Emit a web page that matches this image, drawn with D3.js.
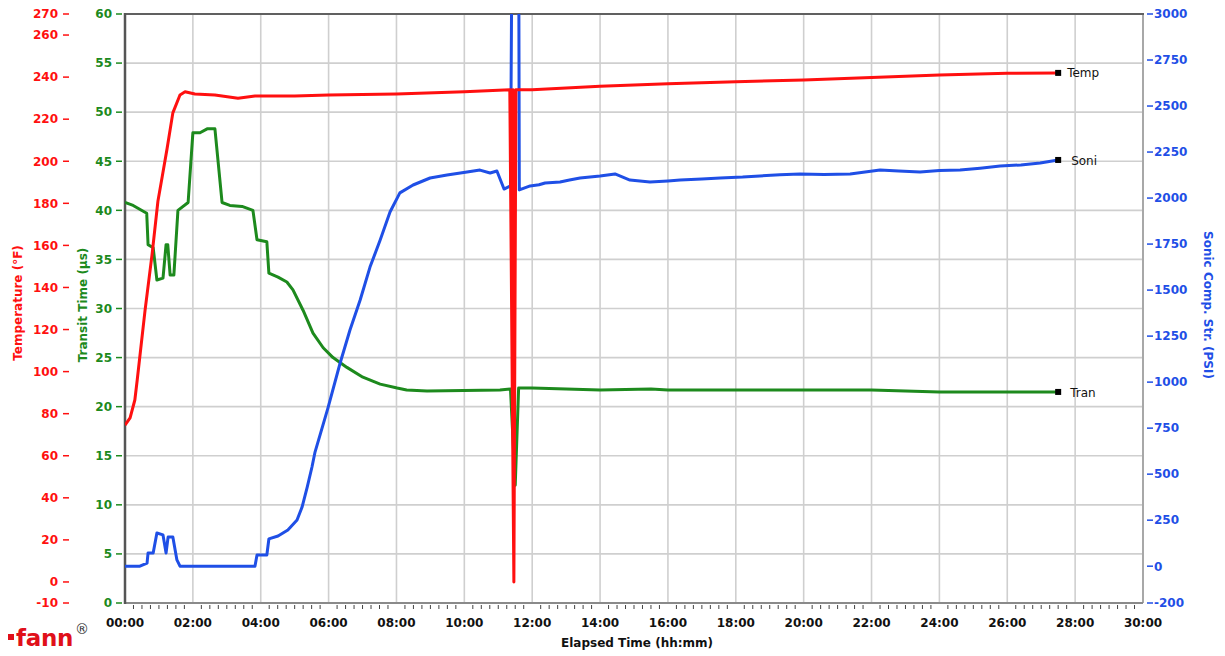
<!DOCTYPE html>
<html>
<head>
<meta charset="utf-8">
<script src="https://cdn.jsdelivr.net/npm/d3@7"></script>
<style>
  html, body { margin: 0; padding: 0; background: #fff; }
  svg { display: block; }
  text { font-family: "DejaVu Sans", Verdana, sans-serif; }
</style>
</head>
<body>
<svg id="chart" width="1225" height="656"></svg>
<script>
// ---------- data (time in hours) ----------
const tempTime = [0,0.15,0.29,0.36,0.59,0.80,0.97,1.10,1.24,1.41,1.62,1.77,2.06,2.65,3.33,3.83,5,6,8,10,11.34,11.46,11.40,11.46,11.44,11.46,11.52,12,14,16,18,20,22,24,26,27.5];
const tempVals = [74.6,78,86.5,96,129,156,181,193,206,223,231.5,233,232,231.5,230,231,231,231.5,232,233,234,0,234,0,234,0,234,234,235.7,236.8,237.8,238.6,239.8,241,241.8,242];

const tranTime = [0,0.24,0.64,0.68,0.83,0.94,1.12,1.21,1.26,1.33,1.44,1.56,1.86,2.0,2.21,2.42,2.65,2.86,3.09,3.45,3.77,3.89,4.18,4.24,4.51,4.77,4.95,5.25,5.54,5.84,6.13,6.54,7.01,7.52,8.02,8.3,8.9,11.05,11.36,11.5,11.6,12,14,15.5,16,20,22,23,24,27.5];
const tranVals = [40.8,40.5,39.7,36.5,36.2,32.9,33.1,36.5,36.5,33.4,33.4,40.0,40.8,47.9,47.9,48.3,48.3,40.8,40.5,40.4,40.0,37.0,36.8,33.6,33.2,32.7,31.9,29.8,27.5,26.0,25.0,24.0,23.0,22.3,21.9,21.7,21.6,21.7,21.8,12.0,21.9,21.9,21.7,21.8,21.7,21.7,21.7,21.6,21.5,21.5];

const soniTime = [0,0.44,0.65,0.68,0.83,0.94,1.12,1.21,1.27,1.41,1.53,1.62,3.83,3.89,4.18,4.24,4.51,4.8,5.07,5.22,5.37,5.51,5.6,5.98,6.34,6.63,6.93,7.22,7.52,7.81,8.1,8.49,8.99,9.49,10.08,10.46,10.76,10.96,11.17,11.36,11.41,11.60,11.62,11.94,12.2,12.38,12.82,13.1,13.41,14.0,14.44,14.88,15.47,16.0,16.36,17.0,17.54,18.2,18.71,19.3,19.89,20.6,21.37,22.25,22.8,23.43,24.0,24.61,25.2,25.79,26.4,26.97,27.5];
const soniVals = [0,0,17,72,72,180,170,72,158,158,34,0,0,61,61,148,164,197,251,322,430,539,620,859,1104,1283,1446,1625,1772,1924,2028,2071,2109,2125,2142,2152,2136,2147,2049,2066,3600,3600,2044,2066,2072,2082,2087,2098,2109,2120,2131,2098,2087,2093,2098,2104,2109,2114,2120,2126,2131,2128,2131,2152,2147,2142,2150,2152,2162,2174,2180,2190,2207];

const tempTicks = [-10,0,20,40,60,80,100,120,140,160,180,200,220,240,260,270];
const tranTicks = [0,5,10,15,20,25,30,35,40,45,50,55,60];
const soniTicks = [-200,0,250,500,750,1000,1250,1500,1750,2000,2250,2500,2750,3000];
const timeTicks = [0,2,4,6,8,10,12,14,16,18,20,22,24,26,28,30];

const seriesLabels = ["Temp","Soni","Tran"];

// ---------- layout ----------
const L = 125, R = 1143, T = 14, B = 603;
const RED = "#ff1010", GREEN = "#1d8a1d", BLUE = "#1f4fe6";
const svg = d3.select("#chart");

const x = d3.scaleLinear().domain([0,30]).range([L,R]);
const yTemp = d3.scaleLinear().domain([-10,270]).range([B,T]);
const yTran = d3.scaleLinear().domain([0,60]).range([B,T]);
const ySoni = d3.scaleLinear().domain([-200,3000]).range([B,T]);

const fmtTime = h => String(h).padStart(2,"0") + ":00";

// clip
svg.append("defs").append("clipPath").attr("id","plotclip")
  .append("rect").attr("x",L).attr("y",T).attr("width",R-L).attr("height",B-T);

// grid
const grid = svg.append("g");
grid.selectAll("line.h").data(tranTicks.filter(v=>v>0 && v<60)).join("line")
  .attr("x1",L).attr("x2",R).attr("y1",d=>yTran(d)).attr("y2",d=>yTran(d))
  .attr("stroke","#cfcfcf").attr("stroke-width",1.6);
grid.selectAll("line.v").data(timeTicks.filter(v=>v>0 && v<30)).join("line")
  .attr("y1",T).attr("y2",B).attr("x1",d=>x(d)).attr("x2",d=>x(d))
  .attr("stroke","#cfcfcf").attr("stroke-width",1.6);

// frame
svg.append("line").attr("x1",R).attr("x2",R).attr("y1",T).attr("y2",B).attr("stroke","#a8a8a8").attr("stroke-width",2);
svg.append("line").attr("x1",L).attr("x2",R).attr("y1",B).attr("y2",B).attr("stroke","#8a8a8a").attr("stroke-width",2);
svg.append("line").attr("x1",L).attr("x2",R+1).attr("y1",T).attr("y2",T).attr("stroke","#606060").attr("stroke-width",2);
svg.append("line").attr("x1",L).attr("x2",L).attr("y1",T-1).attr("y2",B+1).attr("stroke","#555").attr("stroke-width",2.5);

// minor time ticks
const minor = d3.range(0, 30.001, 0.25).filter(v => Math.abs(v/2 - Math.round(v/2)) > 1e-6);
svg.append("g").selectAll("line").data(minor).join("line")
  .attr("x1",d=>x(d)).attr("x2",d=>x(d)).attr("y1",B+2).attr("y2",B+6)
  .attr("stroke","#444").attr("stroke-width",1);

// y axes tick labels
function leftAxis(scale, ticks, color, labelX, dashX) {
  const g = svg.append("g");
  g.selectAll("text").data(ticks).join("text")
    .attr("x",labelX).attr("y",d=>scale(d)).attr("dy","0.36em")
    .attr("text-anchor","end").attr("font-size",12).attr("font-weight","bold")
    .attr("fill",color).text(d=>d);
  g.selectAll("line").data(ticks).join("line")
    .attr("x1",dashX).attr("x2",dashX+6).attr("y1",d=>scale(d)).attr("y2",d=>scale(d))
    .attr("stroke",color).attr("stroke-width",1.5);
}
leftAxis(yTemp, tempTicks, RED, 58, 63);
leftAxis(yTran, tranTicks, GREEN, 112, 116);

// right axis
const rg = svg.append("g");
rg.selectAll("text").data(soniTicks).join("text")
  .attr("x",1154).attr("y",d=>ySoni(d)).attr("dy","0.36em")
  .attr("font-size",12).attr("font-weight","bold").attr("fill",BLUE).text(d=>d);
rg.selectAll("line").data(soniTicks).join("line")
  .attr("x1",1147).attr("x2",1153).attr("y1",d=>ySoni(d)).attr("y2",d=>ySoni(d))
  .attr("stroke",BLUE).attr("stroke-width",1.5);

// x axis labels
svg.append("g").selectAll("text").data(timeTicks).join("text")
  .attr("x",d=>x(d)).attr("y",627).attr("text-anchor","middle")
  .attr("font-size",12).attr("font-weight","bold").attr("fill","#111").text(fmtTime);

// axis titles
svg.append("text").attr("transform","translate(22,303) rotate(-90)").attr("text-anchor","middle")
  .attr("font-size",12).attr("font-weight","bold").attr("fill",RED).text("Temperature (°F)");
svg.append("text").attr("transform","translate(87,305) rotate(-90)").attr("text-anchor","middle")
  .attr("font-size",12).attr("font-weight","bold").attr("fill",GREEN).text("Transit Time (µs)");
svg.append("text").attr("transform","translate(1204,305) rotate(90)").attr("text-anchor","middle")
  .attr("font-size",12).attr("font-weight","bold").attr("fill",BLUE).text("Sonic Comp. Str. (PSI)");
svg.append("text").attr("x",637).attr("y",647).attr("text-anchor","middle")
  .attr("font-size",12).attr("font-weight","bold").attr("fill","#111").text("Elapsed Time (hh:mm)");

// series
const plot = svg.append("g").attr("clip-path","url(#plotclip)");
function drawLine(times, vals, yScale, color) {
  const pts = times.map((t,i)=>[t, vals[i]]);
  plot.append("path").datum(pts)
    .attr("d", d3.line().x(d=>x(d[0])).y(d=>yScale(d[1])))
    .attr("fill","none").attr("stroke",color).attr("stroke-width",3)
    .attr("stroke-linejoin","round");
  return pts[pts.length-1];
}
const endTran = drawLine(tranTime, tranVals, yTran, GREEN);
const endSoni = drawLine(soniTime, soniVals, ySoni, BLUE);
const endTemp = drawLine(tempTime, tempVals, yTemp, RED);

// end markers + labels
const ends = [
  {label: seriesLabels[0], px: x(endTemp[0]), py: yTemp(endTemp[1]), dx: 9},
  {label: seriesLabels[1], px: x(endSoni[0]), py: ySoni(endSoni[1]), dx: 13},
  {label: seriesLabels[2], px: x(endTran[0]), py: yTran(endTran[1]), dx: 12}
];
const eg = svg.append("g");
eg.selectAll("rect").data(ends).join("rect")
  .attr("x",d=>d.px-3).attr("y",d=>d.py-3).attr("width",6).attr("height",6).attr("fill","#000");
eg.selectAll("text").data(ends).join("text")
  .attr("x",d=>d.px+d.dx).attr("y",d=>d.py).attr("dy","0.38em")
  .attr("font-size",12).attr("fill","#111").text(d=>d.label);

// logo
const logo = svg.append("g");
logo.append("rect").attr("x",8).attr("y",634).attr("width",6).attr("height",6).attr("fill","#e0101a");
logo.append("text").attr("x",16).attr("y",646).attr("font-family","'DejaVu Sans', sans-serif")
  .attr("font-size",23).attr("font-weight","bold").attr("fill","#e0101a").attr("letter-spacing","-0.3").text("fann");
logo.append("text").attr("x",75).attr("y",634).attr("font-size",14).attr("fill","#333").text("®");
</script>
</body>
</html>
